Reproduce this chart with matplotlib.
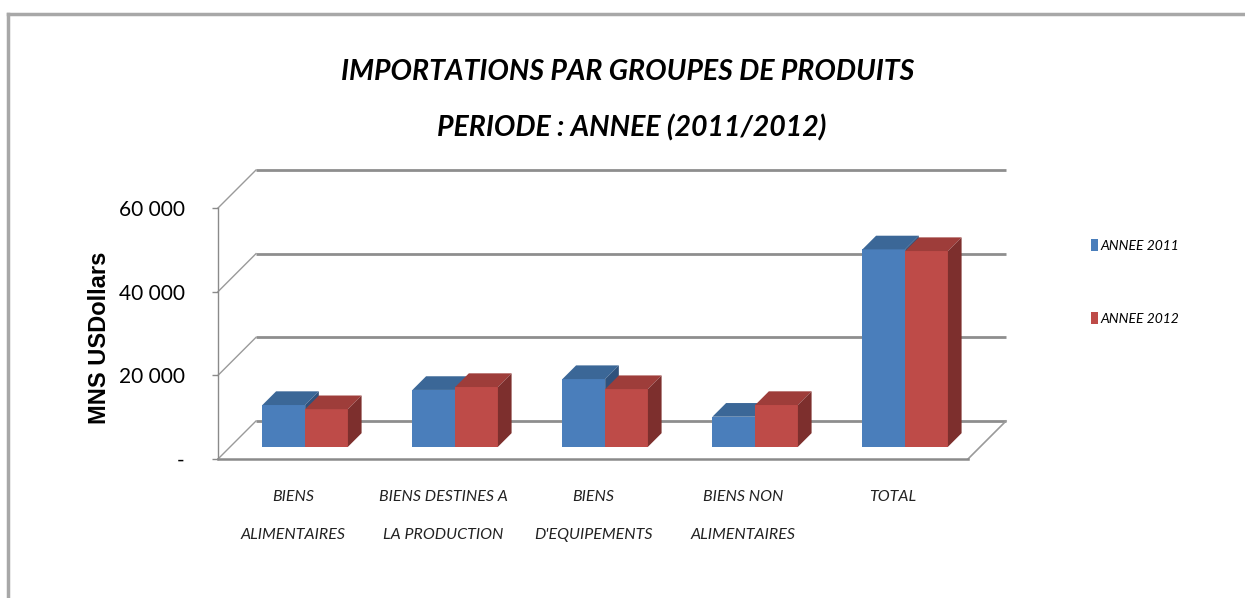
import matplotlib
matplotlib.use("Agg")
import matplotlib.pyplot as plt
from matplotlib.patches import Polygon
from matplotlib.lines import Line2D

# ---- data ----
categories = ["BIENS\nALIMENTAIRES", "BIENS DESTINES A\nLA PRODUCTION",
              "BIENS\nD'EQUIPEMENTS", "BIENS NON\nALIMENTAIRES", "TOTAL"]
series_names = ["ANNEE 2011", "ANNEE 2012"]
values_2011 = [10000, 13600, 16200, 7200, 47200]
values_2012 = [9000, 14300, 13800, 10000, 46800]
yticks = [0, 20000, 40000, 60000]
ytick_labels = ["-", "20 000", "40 000", "60 000"]
title_lines = ["IMPORTATIONS PAR GROUPES DE PRODUITS", "PERIODE : ANNEE (2011/2012)"]
ylabel = "MNS USDollars"

NARROW = ["Lato", "DejaVu Sans"]

W, H = 1245, 598
fig = plt.figure(figsize=(W / 100, H / 100), dpi=100)
fig.patch.set_facecolor("white")

# front plane of the plot, in pixels
left_px, right_px, bot_px, top_px = 218, 968, 459, 208
ax = fig.add_axes([left_px / W, (H - bot_px) / H,
                   (right_px - left_px) / W, (bot_px - top_px) / H])
ax.set_xlim(-0.5, len(categories) - 0.5)
ax.set_ylim(0, 60000)
ax.patch.set_alpha(0)

# 3D depth vector (full depth) in data units
px_x = (len(categories)) / (right_px - left_px)
px_y = 60000 / (bot_px - top_px)
DX = 38 * px_x
DY = 38 * px_y
d0, d1 = 0.32, 0.68
bw = 0.285

grid_col = "#8e8e8e"
x_lo, x_hi = -0.5, len(categories) - 0.5
# back wall gridlines + left wall diagonals
for v in yticks:
    ax.plot([x_lo + DX, x_hi + DX], [v + DY, v + DY], color=grid_col, lw=2.0,
            clip_on=False, zorder=1, solid_capstyle="butt")
    ax.plot([x_lo, x_lo + DX], [v, v + DY], color="#9a9a9a", lw=1.0,
            clip_on=False, zorder=1)
# floor right edge
ax.plot([x_hi, x_hi + DX], [0, DY], color="#9a9a9a", lw=1.2, clip_on=False, zorder=1)

front_cols = ["#4A7EBB", "#BE4B48"]
top_cols = ["#3B6797", "#9E3D3A"]
side_cols = ["#30527C", "#7D2F2D"]

for s, vals in enumerate([values_2011, values_2012]):
    xs = [i - bw + s * bw for i in range(len(categories))]
    ax.bar([x + d0 * DX for x in xs], vals, width=bw, bottom=d0 * DY, align="edge",
           color=front_cols[s], label=series_names[s], zorder=3 + s, clip_on=False,
           linewidth=0)
    for x0, v in zip(xs, vals):
        top = [(x0 + d0 * DX, v + d0 * DY), (x0 + bw + d0 * DX, v + d0 * DY),
               (x0 + bw + d1 * DX, v + d1 * DY), (x0 + d1 * DX, v + d1 * DY)]
        side = [(x0 + bw + d0 * DX, d0 * DY), (x0 + bw + d1 * DX, d1 * DY),
                (x0 + bw + d1 * DX, v + d1 * DY), (x0 + bw + d0 * DX, v + d0 * DY)]
        ax.add_patch(Polygon(top, closed=True, facecolor=top_cols[s], edgecolor="none",
                             zorder=3 + s, clip_on=False))
        ax.add_patch(Polygon(side, closed=True, facecolor=side_cols[s], edgecolor="none",
                             zorder=3 + s, clip_on=False))

# spines / axes
for sp in ["top", "right"]:
    ax.spines[sp].set_visible(False)
ax.spines["left"].set_color("#8a8a8a")
ax.spines["left"].set_linewidth(1.0)
ax.spines["bottom"].set_color("#8a8a8a")
ax.spines["bottom"].set_linewidth(1.8)

ax.set_yticks(yticks)
ax.set_yticklabels(ytick_labels, family=NARROW, fontsize=15)
ax.tick_params(axis="y", direction="out", length=4, width=1, color="#8a8a8a", pad=20)

ax.set_xticks(range(len(categories)))
ax.set_xticklabels(categories, family=NARROW, fontsize=11.5, style="italic", color="#222222")
ax.tick_params(axis="x", length=0, pad=22)
for t in ax.get_xticklabels():
    t.set_linespacing(3.2)
    t.set_verticalalignment("top")

fig.text(100 / W, (H - 338) / H, ylabel, rotation=90, ha="center", va="center",
         fontsize=17, fontweight="bold", family=["Liberation Sans", "DejaVu Sans"])

fig.text(628 / W, (H - 72) / H, title_lines[0], ha="center", va="center",
         fontsize=20.5, fontweight="bold", style="italic", family=NARROW)
fig.text(632 / W, (H - 128) / H, title_lines[1], ha="center", va="center",
         fontsize=20.5, fontweight="bold", style="italic", family=NARROW)

leg = fig.legend(loc="upper left", bbox_to_anchor=(1084 / W, (H - 232) / H),
                 frameon=False, handlelength=0.5, handleheight=1.0,
                 handletextpad=0.2, labelspacing=4.3, borderpad=0,
                 prop={"family": NARROW, "style": "italic", "size": 10})

# outer frame (cut at right/bottom)
fig.add_artist(Line2D([8 / W, 8 / W], [0, (H - 14) / H], color="#a8a8a8", lw=2.5))
fig.add_artist(Line2D([8 / W, 1], [(H - 14) / H, (H - 14) / H], color="#a8a8a8", lw=2.5))

fig.savefig("out.png", dpi=100, facecolor="white")
